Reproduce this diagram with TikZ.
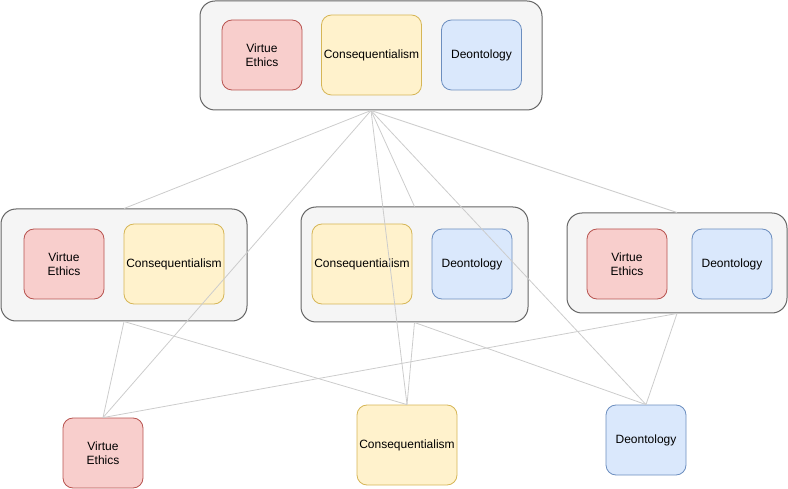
\documentclass[tikz,border=0pt]{standalone}
\usepackage{fontspec}
\setmainfont{Liberation Sans}
\definecolor{grpfill}{HTML}{F5F5F5}
\definecolor{grpline}{HTML}{666666}
\definecolor{redfill}{HTML}{F8CECC}
\definecolor{redline}{HTML}{B85450}
\definecolor{yelfill}{HTML}{FFF2CC}
\definecolor{yelline}{HTML}{D6B656}
\definecolor{bluefill}{HTML}{DAE8FC}
\definecolor{blueline}{HTML}{6C8EBF}
\definecolor{linkgray}{HTML}{CCCCCC}
\begin{document}
\begin{tikzpicture}[x=1pt,y=-1pt,
  group/.style={draw=grpline, fill=grpfill, rounded corners=15pt, line width=1pt, inner sep=0pt},
  card/.style={rounded corners=10pt, line width=0.8pt, align=center, inner sep=0pt,
    font=\fontsize{12}{14}\selectfont},
  virtue/.style={card, draw=redline, fill=redfill, minimum width=80pt, minimum height=70pt},
  conseq/.style={card, draw=yelline, fill=yelfill, minimum width=100pt, minimum height=80pt},
  deont/.style={card, draw=blueline, fill=bluefill, minimum width=80pt, minimum height=70pt},
  link/.style={draw=linkgray, line width=0.8pt}]
\useasboundingbox (0,0) rectangle (788,489);

% top group: all three theories
\node[group, minimum width=342pt, minimum height=109pt] (top) at (371,55.5) {};
\node[virtue] (topVE) at (262,55) {Virtue\\Ethics};
\node[conseq] (topC) at (371.5,55) {Consequentialism};
\node[deont] (topD) at (481.5,55) {Deontology};

% middle row: pairs
\node[group, minimum width=246pt, minimum height=112pt] (left) at (124,265) {};
\node[virtue] (leftVE) at (64,264) {Virtue\\Ethics};
\node[conseq] (leftC) at (174,264) {Consequentialism};

\node[group, minimum width=227pt, minimum height=115pt] (mid) at (414.5,264.5) {};
\node[conseq] (midC) at (362,264) {Consequentialism};
\node[deont] (midD) at (472,264) {Deontology};

\node[group, minimum width=220pt, minimum height=100pt] (right) at (677,263) {};
\node[virtue] (rightVE) at (627,264) {Virtue\\Ethics};
\node[deont] (rightD) at (732,264) {Deontology};

% bottom row: single theories
\node[virtue] (bVE) at (103,453) {Virtue\\Ethics};
\node[conseq] (bC) at (407,445) {Consequentialism};
\node[deont] (bD) at (646,440) {Deontology};

% connectors
\draw[link] (top.south) -- (left.north);
\draw[link] (top.south) -- (bVE.north);
\draw[link] (top.south) -- (mid.north);
\draw[link] (top.south) -- (bC.north);
\draw[link] (top.south) -- (right.north);
\draw[link] (top.south) -- (bD.north);
\draw[link] (left.south) -- (bVE.north);
\draw[link] (left.south) -- (bC.north);
\draw[link] (mid.south) -- (bC.north);
\draw[link] (mid.south) -- (bD.north);
\draw[link] (right.south) -- (bVE.north);
\draw[link] (right.south) -- (bD.north);
\end{tikzpicture}
\end{document}
